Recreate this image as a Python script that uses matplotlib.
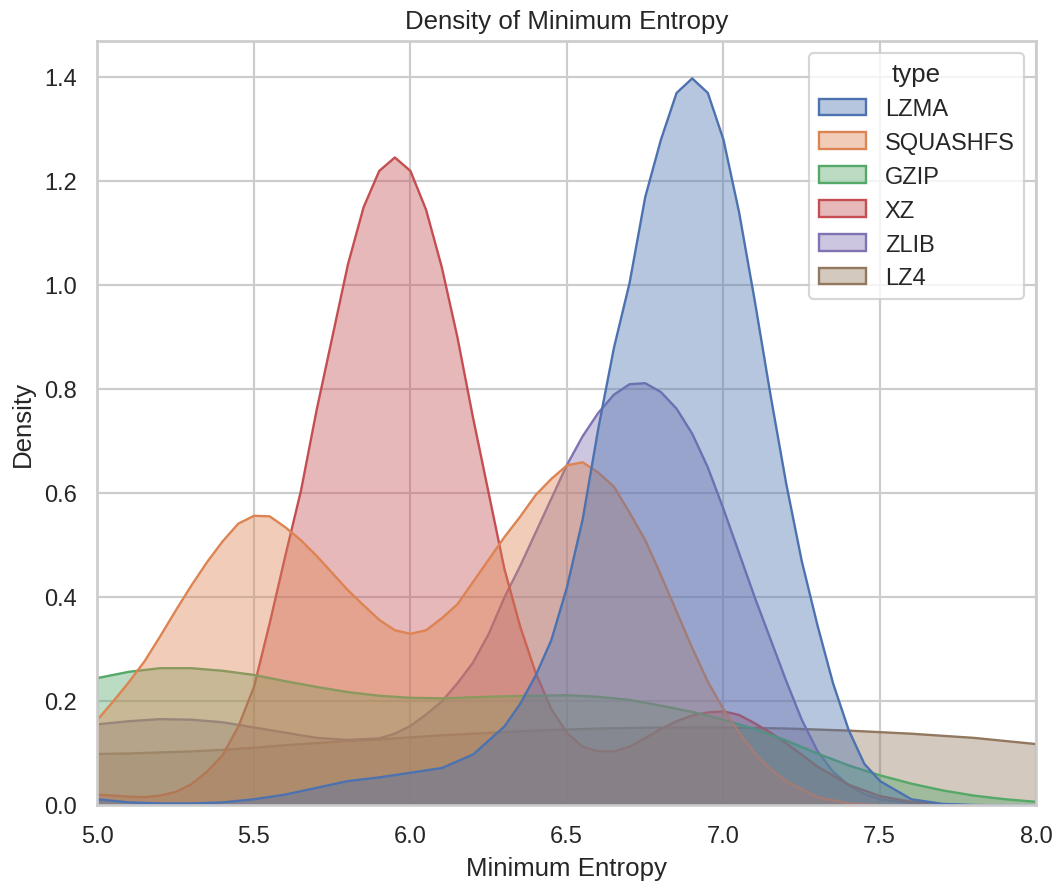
import matplotlib
matplotlib.use("Agg")
import matplotlib.pyplot as plt
from matplotlib.patches import Patch
import seaborn as sns

# Estimated density curves of minimum entropy per compression type
types = ["LZMA", "SQUASHFS", "GZIP", "XZ", "ZLIB", "LZ4"]

grid = [5.0, 5.1, 5.2, 5.3, 5.4, 5.5, 5.6, 5.7, 5.8, 5.9, 6.0, 6.1, 6.2, 6.3, 6.4,
        6.5, 6.6, 6.7, 6.8, 6.9, 7.0, 7.1, 7.2, 7.3, 7.4, 7.5, 7.6, 7.7, 7.8, 7.9, 8.0]

lzma_x = [5.0, 5.1, 5.2, 5.3, 5.4, 5.5, 5.6, 5.7, 5.8, 5.9, 6.0, 6.1, 6.2, 6.3, 6.35,
          6.4, 6.45, 6.5, 6.55, 6.6, 6.65, 6.7, 6.75, 6.8, 6.85, 6.9, 6.95, 7.0, 7.05,
          7.1, 7.15, 7.2, 7.25, 7.3, 7.35, 7.4, 7.45, 7.5, 7.6, 7.7, 7.8, 7.9, 8.0]
lzma_y = [0.012, 0.006, 0.004, 0.004, 0.006, 0.012, 0.021, 0.034, 0.047, 0.054, 0.063,
          0.072, 0.098, 0.152, 0.195, 0.25, 0.318, 0.42, 0.55, 0.725, 0.88, 1.005, 1.17,
          1.28, 1.37, 1.398, 1.37, 1.28, 1.14, 0.97, 0.79, 0.62, 0.47, 0.347, 0.235,
          0.145, 0.08, 0.047, 0.012, 0.003, 0.001, 0.0, 0.0]

squashfs_x = [5.0, 5.05, 5.1, 5.15, 5.2, 5.25, 5.3, 5.35, 5.4, 5.45, 5.5, 5.55, 5.6,
              5.65, 5.7, 5.75, 5.8, 5.85, 5.9, 5.95, 6.0, 6.05, 6.1, 6.15, 6.2, 6.25,
              6.3, 6.35, 6.4, 6.45, 6.5, 6.55, 6.6, 6.65, 6.7, 6.75, 6.8, 6.85, 6.9,
              6.95, 7.0, 7.05, 7.1, 7.15, 7.2, 7.3, 7.4, 7.5, 7.6, 8.0]
squashfs_y = [0.165, 0.2, 0.237, 0.277, 0.325, 0.375, 0.423, 0.468, 0.508, 0.542, 0.557,
              0.556, 0.535, 0.51, 0.48, 0.447, 0.414, 0.385, 0.357, 0.337, 0.33, 0.337,
              0.36, 0.387, 0.43, 0.473, 0.516, 0.555, 0.597, 0.628, 0.654, 0.66, 0.64,
              0.613, 0.563, 0.51, 0.443, 0.373, 0.303, 0.238, 0.185, 0.14, 0.1, 0.07,
              0.047, 0.016, 0.004, 0.001, 0.0, 0.0]

gzip_y = [0.245, 0.257, 0.264, 0.264, 0.259, 0.251, 0.239, 0.228, 0.218, 0.211, 0.207,
          0.206, 0.208, 0.21, 0.211, 0.212, 0.209, 0.203, 0.192, 0.18, 0.165, 0.147,
          0.125, 0.1, 0.077, 0.058, 0.042, 0.029, 0.019, 0.012, 0.007]

xz_x = [5.0, 5.05, 5.1, 5.15, 5.2, 5.25, 5.3, 5.35, 5.4, 5.45, 5.5, 5.55, 5.6, 5.65,
        5.7, 5.75, 5.8, 5.85, 5.9, 5.95, 6.0, 6.05, 6.1, 6.15, 6.2, 6.25, 6.3, 6.35,
        6.4, 6.45, 6.5, 6.55, 6.6, 6.65, 6.7, 6.75, 6.8, 6.85, 6.9, 6.95, 7.0, 7.05,
        7.1, 7.15, 7.2, 7.3, 7.4, 7.5, 7.6, 7.7, 7.8, 8.0]
xz_y = [0.021, 0.019, 0.017, 0.016, 0.019, 0.026, 0.041, 0.065, 0.097, 0.152, 0.228,
        0.35, 0.48, 0.605, 0.76, 0.90, 1.04, 1.15, 1.22, 1.246, 1.22, 1.145, 1.035, 0.90,
        0.745, 0.60, 0.455, 0.345, 0.255, 0.185, 0.14, 0.113, 0.104, 0.104, 0.113, 0.13,
        0.147, 0.162, 0.173, 0.179, 0.181, 0.174, 0.158, 0.14, 0.12, 0.075, 0.04, 0.018,
        0.007, 0.002, 0.0, 0.0]

zlib_x = [5.0, 5.1, 5.2, 5.3, 5.4, 5.5, 5.6, 5.7, 5.8, 5.9, 5.95, 6.0, 6.05, 6.1, 6.15,
          6.2, 6.25, 6.3, 6.35, 6.4, 6.45, 6.5, 6.55, 6.6, 6.65, 6.7, 6.75, 6.8, 6.85,
          6.9, 6.95, 7.0, 7.05, 7.1, 7.15, 7.2, 7.25, 7.3, 7.35, 7.4, 7.45, 7.5, 7.6,
          7.7, 7.8, 8.0]
zlib_y = [0.156, 0.162, 0.166, 0.165, 0.16, 0.15, 0.14, 0.13, 0.126, 0.129, 0.138, 0.153,
          0.175, 0.20, 0.235, 0.275, 0.33, 0.40, 0.46, 0.525, 0.59, 0.655, 0.71, 0.755,
          0.79, 0.81, 0.812, 0.795, 0.763, 0.715, 0.65, 0.57, 0.485, 0.40, 0.32, 0.24,
          0.165, 0.105, 0.065, 0.039, 0.022, 0.012, 0.004, 0.001, 0.0, 0.0]

lz4_y = [0.099, 0.1, 0.102, 0.104, 0.107, 0.111, 0.116, 0.12, 0.124, 0.127, 0.131,
         0.135, 0.138, 0.141, 0.144, 0.146, 0.148, 0.149, 0.15, 0.15, 0.15, 0.149,
         0.148, 0.146, 0.144, 0.141, 0.138, 0.134, 0.13, 0.124, 0.118]

curves = {
    "LZMA": (lzma_x, lzma_y),
    "SQUASHFS": (squashfs_x, squashfs_y),
    "GZIP": (grid, gzip_y),
    "XZ": (xz_x, xz_y),
    "ZLIB": (zlib_x, zlib_y),
    "LZ4": (grid, lz4_y),
}

sns.set_theme(style="whitegrid")
plt.rcParams["font.family"] = ["Liberation Sans", "DejaVu Sans"]
palette = sns.color_palette("deep", len(types))
colors = dict(zip(types, palette))
fill_alpha = 0.4
edge_width = 1.1

DPI = 155
fig = plt.figure(figsize=(1058 / DPI, 883 / DPI), dpi=DPI)
ax = fig.add_axes([97 / 1058, 77 / 883, (1036 - 97) / 1058, (806 - 42) / 883])

# later hue levels underneath, first one on top
for name in reversed(types):
    xs, ys = curves[name]
    c = colors[name]
    ax.fill_between(xs, 0, ys, facecolor=(*c, fill_alpha), edgecolor=(*c, 1.0),
                    linewidth=edge_width)

ax.set_xlim(5.0, 8.0)
ax.set_ylim(0, 1.469)
ax.set_xlabel("Minimum Entropy")
ax.set_ylabel("Density")
ax.set_title("Density of Minimum Entropy")

handles = [Patch(facecolor=(*colors[t], fill_alpha), edgecolor=colors[t],
                 linewidth=edge_width, label=t) for t in types]
ax.legend(handles=handles, title="type", loc="upper right")

fig.savefig("out.png", dpi=DPI)
